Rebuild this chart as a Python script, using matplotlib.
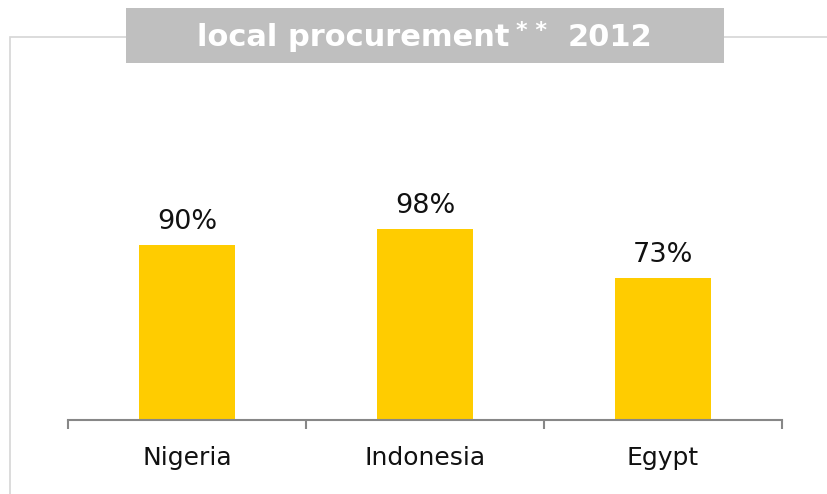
import matplotlib
matplotlib.use('Agg')
import matplotlib.pyplot as plt
from matplotlib.patches import Rectangle

# Local procurement share by country, 2012
countries = ['Nigeria', 'Indonesia', 'Egypt']
share = [90, 98, 73]
value_labels = ['90%', '98%', '73%']

W, H = 828, 494
fig = plt.figure(figsize=(W / 100, H / 100), dpi=100)

# light frame around the panel (runs off the right and bottom edges)
frame = Rectangle((10 / W, -0.1), 1.0, 1 - 37 / H + 0.1, transform=fig.transFigure,
                  fill=False, edgecolor='#D6D6D6', linewidth=1.2, zorder=0)
fig.patches.append(frame)

# grey title banner
banner = Rectangle((126 / W, 1 - 63 / H), (724 - 126) / W, (63 - 8) / H,
                   transform=fig.transFigure, facecolor='#BFBFBF',
                   edgecolor='none', zorder=1)
fig.patches.append(banner)
fig.text(197 / W, 1 - 46 / H, 'local procurement', color='white', fontsize=22,
         fontweight='bold', va='baseline', ha='left', zorder=2)
fig.text(516 / W, 1 - 37 / H, '* *', color='white', fontsize=16,
         fontweight='bold', va='baseline', ha='left', zorder=2)
fig.text(568 / W, 1 - 46 / H, '2012', color='white', fontsize=22,
         fontweight='bold', va='baseline', ha='left', zorder=2)

# plotting area: baseline at y=420px, spans x=68..782px
ax = fig.add_axes([68 / W, 74 / H, 714 / W, 340 / H])
x = list(range(len(countries)))
ax.bar(x, share, width=0.4, color='#FFCC00', zorder=2)
ax.set_xlim(-0.5, len(countries) - 0.5)
ax.set_ylim(0, 340 / 1.945)

for xi, v, lab in zip(x, share, value_labels):
    ax.annotate(lab, xy=(xi, v), xytext=(0, 7.5), textcoords='offset points',
                ha='center', va='bottom', fontsize=19.5, color='#111111')

for side in ['top', 'right', 'left']:
    ax.spines[side].set_visible(False)
ax.spines['bottom'].set_color('#878787')
ax.spines['bottom'].set_linewidth(1.5)
ax.set_yticks([])

ax.set_xticks(x)
ax.set_xticklabels(countries, fontsize=18, color='#111111')
ax.set_xticks([i - 0.5 for i in range(len(countries) + 1)], minor=True)
ax.tick_params(axis='x', which='major', length=0, pad=19)
ax.tick_params(axis='x', which='minor', length=6.5, width=1.5,
               color='#878787', direction='out')

fig.savefig('out.png', dpi=100, facecolor='white')
